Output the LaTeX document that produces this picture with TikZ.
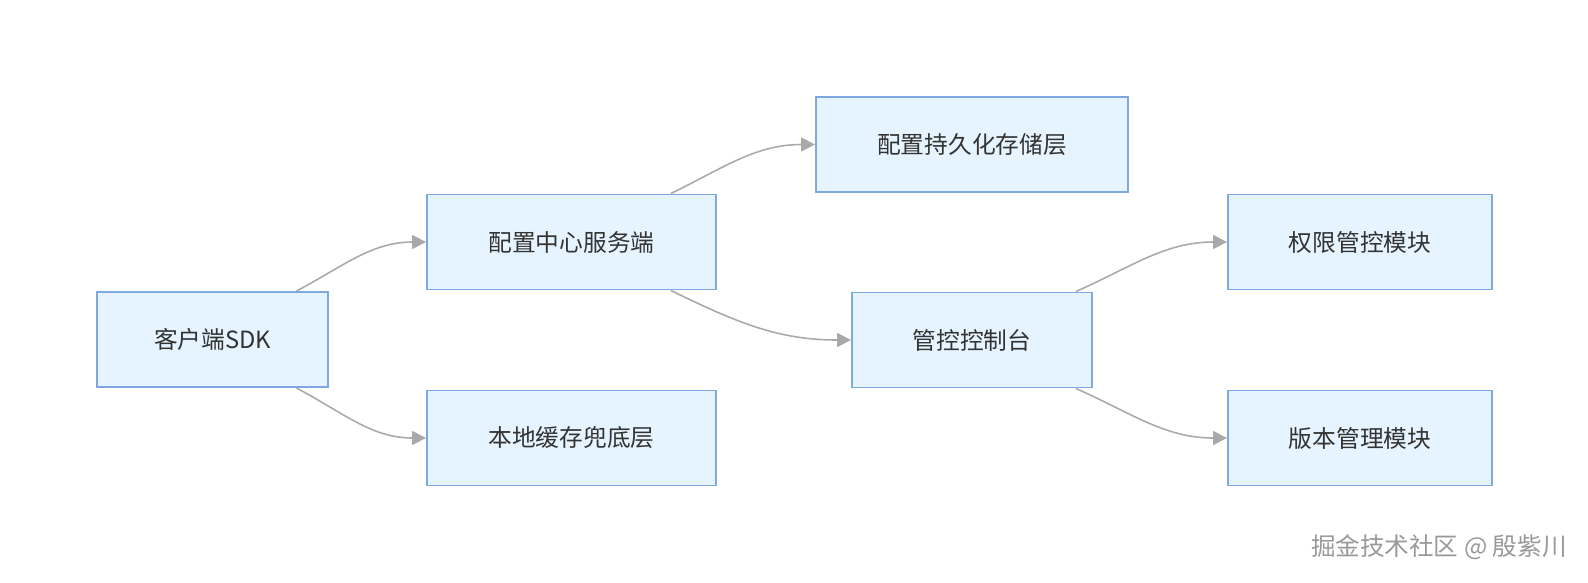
\documentclass[tikz,border=0pt]{standalone}
\usepackage{fontspec}
\setmainfont{Noto Sans CJK SC}
\usepackage{xcolor}
\usepackage{tikz}
\usetikzlibrary{arrows.meta}

\definecolor{boxFill}{HTML}{E5F4FE}
\definecolor{boxLine}{HTML}{7FA8E1}
\definecolor{linkLine}{HTML}{AAAAAA}
\definecolor{tipFill}{HTML}{A8A8A8}
\definecolor{textDark}{HTML}{333333}

\begin{document}
\begin{tikzpicture}[
    x=0.02cm, y=-0.02cm,
    % Estilos das caixas e ligacoes
    modbox/.style={rectangle, draw=boxLine, line width=1.1pt, fill=boxFill, minimum height=1.9cm, align=center, text=textDark, font=\fontsize{13.5}{16}\selectfont, inner sep=0pt},
    linkArrow/.style={draw=linkLine, line width=0.9pt, -{Triangle[length=0.28cm, width=0.28cm, fill=tipFill]}}
]
\useasboundingbox (0,0) rectangle (1588,582);

% ==========================
% NOS
% ==========================
\node[modbox, minimum width=4.62cm] (n_sdk) at (212.5, 339.5) {客户端SDK};
\node[modbox, minimum width=5.78cm] (n_srv) at (571.5, 242) {配置中心服务端};
\node[modbox, minimum width=5.78cm] (n_cache) at (571.5, 438) {本地缓存兜底层};
\node[modbox, minimum width=6.24cm] (n_store) at (972, 144.5) {配置持久化存储层};
\node[modbox, minimum width=4.8cm] (n_console) at (972, 340) {管控控制台};
\node[modbox, minimum width=5.28cm] (n_perm) at (1360, 242) {权限管控模块};
\node[modbox, minimum width=5.28cm] (n_ver) at (1360, 438) {版本管理模块};

% ==========================
% LIGACOES
% ==========================
\draw[linkArrow] (n_sdk.30) to[out=28, in=180] (n_srv.west);
\draw[linkArrow] (n_sdk.-30) to[out=-28, in=180] (n_cache.west);
\draw[linkArrow] (n_srv.26) to[out=26, in=180] (n_store.west);
\draw[linkArrow] (n_srv.-26) to[out=-26, in=180] (n_console.west);
\draw[linkArrow] (n_console.25) to[out=24, in=180] (n_perm.west);
\draw[linkArrow] (n_console.-25) to[out=-24, in=180] (n_ver.west);

% marca d'agua
\node[anchor=east, text=gray!80, font=\fontsize{14}{16}\selectfont, inner sep=0pt] (n_mark) at (1567, 547) {掘金技术社区 @ 殷紫川};

\end{tikzpicture}
\end{document}
